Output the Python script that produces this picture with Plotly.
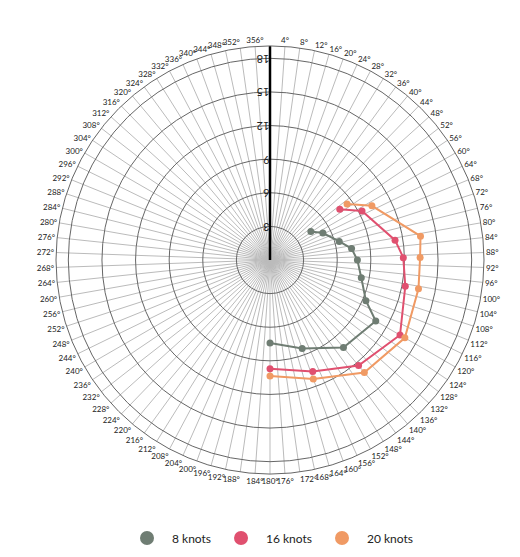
import plotly.graph_objects as go

# wind angle (deg) and boat speed (knots) per true wind speed
angles_8 = [55, 63, 75, 82, 90, 101, 113, 120, 140, 160, 180]
speed_8 = [4.45, 5.3, 6.4, 7.35, 7.8, 8.3, 9.3, 10.9, 10.2, 8.4, 7.4]

angles_16 = [54, 62, 81, 89, 101, 120, 140, 159, 180]
speed_16 = [7.7, 9.3, 11.3, 11.9, 12.3, 13.4, 12.3, 10.65, 9.7]

angles_20 = [54, 62, 81, 89, 101, 120, 140, 160, 180]
speed_20 = [8.5, 10.3, 13.6, 13.4, 13.5, 13.9, 13.1, 11.3, 10.35]

angle_ticks = list(range(0, 360, 4))
radial_ticks = [3, 6, 9, 12, 15, 18]

series = [
    ("8 knots", angles_8, speed_8, "#6f7d73"),
    ("16 knots", angles_16, speed_16, "#e0506f"),
    ("20 knots", angles_20, speed_20, "#f09a64"),
]

fig = go.Figure()
# black heading line
fig.add_trace(go.Scatterpolar(r=[0, 21.5], theta=[0, 0], mode="lines",
                              line=dict(color="black", width=2.5),
                              cliponaxis=False, showlegend=False, hoverinfo="skip"))
for name, th, r, col in series:
    fig.add_trace(go.Scatterpolar(
        r=r, theta=th, name=name, mode="lines+markers", showlegend=False,
        line=dict(color=col, width=2), marker=dict(color=col, size=7),
    ))
    # legend entry, marker only
    fig.add_trace(go.Scatterpolar(r=[None], theta=[None], name=name, mode="markers",
                                  marker=dict(color=col, size=14)))

fig.update_layout(
    width=520, height=557,
    paper_bgcolor="white",
    font=dict(family="Lato", color="#222"),
    margin=dict(l=48, r=44, t=36, b=81),
    legend=dict(orientation="h", x=0.5, xanchor="center", y=-0.11, yanchor="top",
                font=dict(size=12, color="#222"), itemwidth=40),
    polar=dict(
        bgcolor="white",
        radialaxis=dict(range=[0, 19.1], tickvals=radial_ticks, ticksuffix=" knt",
                        angle=90, tickangle=-90, side="counterclockwise",
                        showline=False, gridcolor="#666", gridwidth=1, ticks="",
                        tickfont=dict(size=11, color="#222")),
        angularaxis=dict(rotation=90, direction="clockwise", tickvals=angle_ticks,
                         ticktext=["" if a == 0 else f"{a}°" for a in angle_ticks],
                         gridcolor="#bbb", gridwidth=1, linecolor="#666",
                         ticks="", tickfont=dict(size=8, color="#222")),
    ),
)

fig.write_html("out.html")
